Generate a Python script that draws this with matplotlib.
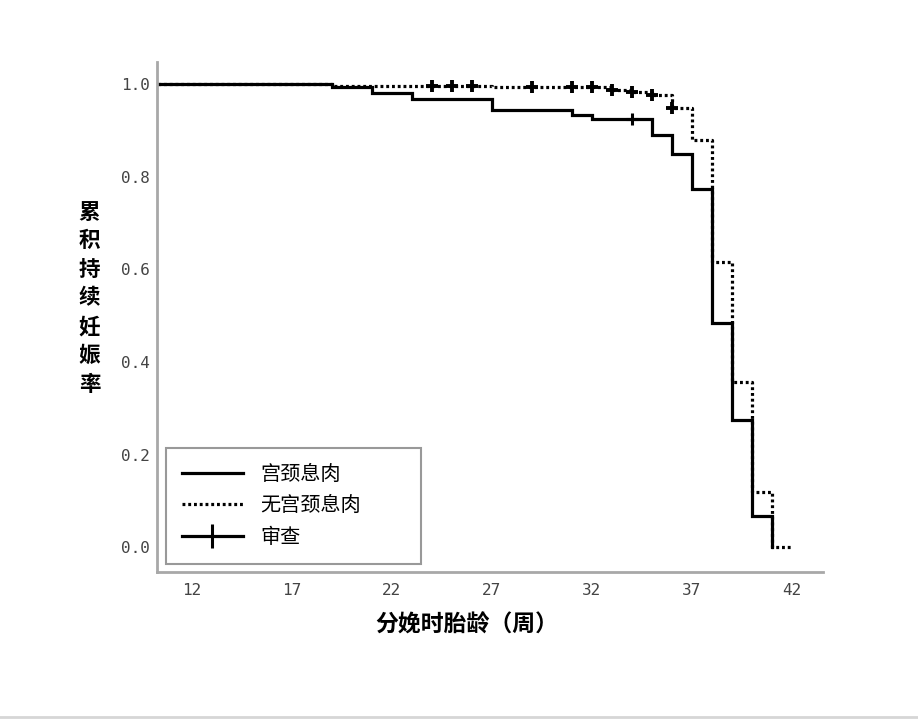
import numpy as np
import matplotlib
matplotlib.use("Agg")
import matplotlib.pyplot as plt
from matplotlib.lines import Line2D

plt.rcParams['font.family'] = ['Noto Sans CJK SC', 'DejaVu Sans']

# semaines d'accouchement et survie cumulée
weeks_polyp = [19, 21, 23, 27, 31, 32, 35, 36, 37, 38, 39, 40, 41]
surv_polyp = [0.993, 0.981, 0.969, 0.944, 0.934, 0.925, 0.891, 0.849, 0.773, 0.484, 0.275, 0.068, 0.0]
censor_polyp = [34]

weeks_none = [19, 27, 33, 34, 35, 36, 37, 38, 39, 40, 41]
surv_none = [0.996, 0.993, 0.988, 0.983, 0.977, 0.949, 0.879, 0.617, 0.356, 0.120, 0.0]
censor_none = [24, 25, 26, 29, 31, 32, 33, 34, 35, 36]

labels = ['宫颈息肉', '无宫颈息肉', '审查']
xticks = [12, 17, 22, 27, 32, 37, 42]
yticks = [0.0, 0.2, 0.4, 0.6, 0.8, 1.0]
t_start = 10
t_end_none = 42


def surv_at(t, weeks, surv):
    v = 1.0
    for w, s in zip(weeks, surv):
        if w <= t:
            v = s
    return v


fig = plt.figure(figsize=(9.18, 7.2), dpi=100)
ax = fig.add_axes([0.1707, 0.206, 0.7262, 0.708])

lw = 2.3
# courbe avec polype
xs = [t_start] + weeks_polyp
ys = [1.0] + surv_polyp
ax.step(xs, ys, where='post', color='black', lw=lw, solid_joinstyle='miter')
# courbe sans polype
xs2 = [t_start] + weeks_none + [t_end_none]
ys2 = [1.0] + surv_none + [surv_none[-1]]
ax.step(xs2, ys2, where='post', color='black', lw=lw, linestyle=(0, (0.9, 0.9)))

# marques de censure
cy1 = [surv_at(t, weeks_polyp, surv_polyp) for t in censor_polyp]
ax.plot(censor_polyp, cy1, linestyle='none', marker='+', color='black', ms=9, mew=2.2)
cy2 = [surv_at(t, weeks_none, surv_none) for t in censor_none]
ax.plot(censor_none, cy2, linestyle='none', marker='+', color='black', ms=9, mew=2.8)

ax.set_xlim(10.25, 43.58)
ax.set_ylim(-0.0527, 1.048)
ax.set_xticks(xticks)
ax.set_yticks(yticks)
ax.set_xticklabels([str(x) for x in xticks], family='DejaVu Sans Mono', fontsize=11.5, color='#444444')
ax.set_yticklabels(['%.1f' % y for y in yticks], family='DejaVu Sans Mono', fontsize=11.5, color='#444444')
ax.tick_params(length=0)
ax.tick_params(axis='y', pad=5)
ax.tick_params(axis='x', pad=8)
for s in ['top', 'right']:
    ax.spines[s].set_visible(False)
for s in ['left', 'bottom']:
    ax.spines[s].set_color('#a8a8a8')
    ax.spines[s].set_linewidth(2)

handles = [
    Line2D([], [], color='black', lw=lw),
    Line2D([], [], color='black', lw=lw, linestyle=(0, (0.9, 0.9))),
    Line2D([], [], color='black', lw=lw, marker='|', ms=17, mew=2.2),
]
leg = ax.legend(handles, labels, loc='lower left', bbox_to_anchor=(0.014, 0.015, 0.382, 0.227),
                mode='expand', borderaxespad=0, handlelength=3.0,
                handletextpad=0.9, labelspacing=0.52, borderpad=0.8,
                frameon=True, fancybox=False, prop={'weight': 'medium', 'size': 14.5})
leg.get_frame().set_edgecolor('#808080')
leg.get_frame().set_linewidth(1.5)

fig.text(0.509, 0.132, '分娩时胎龄（周）', ha='center', va='center', fontsize=16.5, fontweight='bold')
fig.text(0.0975, 0.586, '\n'.join('累积持续妊娠率'), ha='center', va='center',
         fontsize=15.5, fontweight='bold', linespacing=1.45)

fig.add_artist(Line2D([0, 1], [3 / 720, 3 / 720], color='#d6d6d6', lw=2))

fig.savefig('out.png', dpi=100)
